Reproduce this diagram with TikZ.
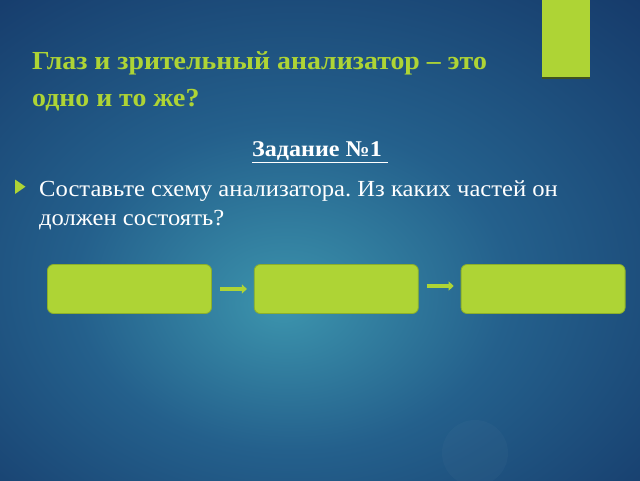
\documentclass[tikz,border=0pt]{standalone}
\usepackage{fontspec}
\setmainfont{Liberation Serif}[FakeStretch=1.07]
\usepackage{tikz}
\usetikzlibrary{chains,positioning,arrows.meta}
\frenchspacing

\definecolor{lime}{HTML}{AED435}
\definecolor{limeedge}{HTML}{8CAF2A}
\definecolor{limeshadow}{HTML}{3F5220}
\definecolor{slidehi}{HTML}{3C94AD}
\definecolor{slidemid}{HTML}{24608C}
\definecolor{slidelo}{HTML}{163B6B}
\definecolor{slidecorner}{HTML}{0C2554}

\pgfdeclareradialshading{slide}{\pgfpoint{-3bp}{-7bp}}{%
  color(0bp)=(slidehi); color(17bp)=(slidemid);
  color(38bp)=(slidelo); color(60bp)=(slidecorner)}

\begin{document}
\begin{tikzpicture}[
      x=1pt, y=-1pt,
      part/.style={
            rectangle, draw=limeedge, fill=lime,
            rounded corners=6pt, line width=0.8pt,
            minimum width=164pt, minimum height=49pt
        },
      flow/.style={
            draw=lime, line width=3.5pt,
            -{Triangle[length=5pt,width=9pt]},
            shorten <=8pt, shorten >=7pt
        },
      node distance=42pt, start chain
      ]
    \useasboundingbox (0,0) rectangle (640,480);
    \shade[shading=slide] (0,0) rectangle (640,480);
    \fill[white, opacity=0.025] (475,453) circle (33);

    % tab in the corner
    \fill[limeshadow] (542,0) rectangle (590,79);
    \fill[lime] (542,0) rectangle (590,77);

    \node[anchor=base west, text=lime, align=left, inner sep=0pt,
          font=\bfseries\fontsize{26}{37.4}\selectfont] (title) at (32,106.7)
          {Глаз и зрительный анализатор -- это\\одно и то же?};

    \node[anchor=base, text=white, inner sep=0pt,
          font=\bfseries\fontsize{22.5}{26}\selectfont] (task) at (320,156.7)
          {\underline{Задание №1\ }};

    \fill[lime] (15,179.5) -- (25.5,186.7) -- (15,194) -- cycle;
    \node[anchor=base west, text=white, align=left, inner sep=0pt,
          font=\fontsize{23}{28.4}\selectfont] (ask) at (39,225)
          {Составьте схему анализатора. Из каких частей он\\должен состоять?};

    % the three parts
    \node[part,on chain] (P1) at (129.5,289) {};
    \node[part,on chain] (P2) {};
    \node[part,on chain] (P3) {};

    \draw[flow] (P1) -- (P2);
    \draw[flow] ([yshift=3pt]P2.east) -- ([yshift=3pt]P3.west);
  \end{tikzpicture}
\end{document}
